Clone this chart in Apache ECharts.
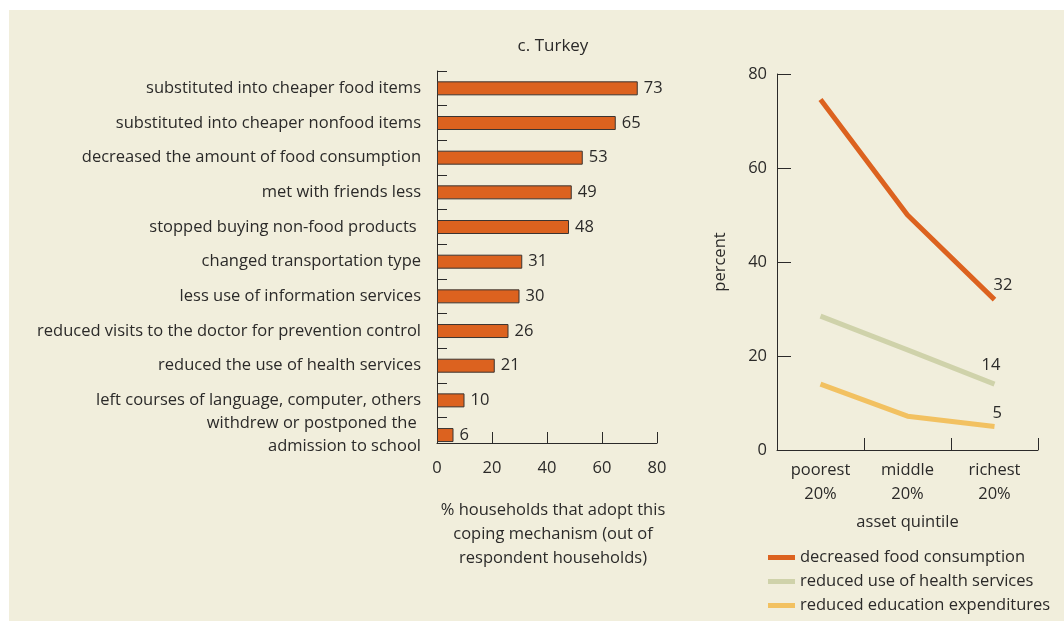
<!DOCTYPE html>
<html>
<head>
<meta charset="utf-8">
<script src="https://cdn.jsdelivr.net/npm/echarts@6/dist/echarts.min.js"></script>
<style>
  html, body { margin: 0; padding: 0; background: #ffffff; }
  #chart { width: 1064px; height: 621px; }
</style>
</head>
<body>
<div id="chart"></div>
<script>
// Coping mechanisms adopted by households (Turkey)
const copingCategories = [
  'substituted into cheaper food items',
  'substituted into cheaper nonfood items',
  'decreased the amount of food consumption',
  'met with friends less',
  'stopped buying non-food products ',
  'changed transportation type',
  'less use of information services',
  'reduced visits to the doctor for prevention control',
  'reduced the use of health services',
  'left courses of language, computer, others',
  'withdrew or postponed the \nadmission to school'
];
const copingShares = [73, 65, 53, 49, 48, 31, 30, 26, 21, 10, 6];
const shareTicks = [0, 20, 40, 60, 80];

// Share by asset quintile
const quintiles = ['poorest\n20%', 'middle\n20%', 'richest\n20%'];
const foodConsumption = [74.6, 50, 32];
const healthServices = [28.5, 21.3, 14];
const educationSpending = [14, 7.2, 5];
const percentTicks = [0, 20, 40, 60, 80];

const TEXT = '#2b2a29';
const AXIS = '#2b2a29';
const FONT = 'Open Sans';
const FS = 16.5;
const ORANGE = '#dc621f';
const SAGE = '#cfd2aa';
const GOLD = '#f2c161';

// Bar layout: one category slot height, top of the slots and the x axis line
const SLOT = 34.67;
const BAR_TOP = 71;
const BAR_AXIS_Y = 443;

const chart = echarts.init(document.getElementById('chart'));

function endLabel(offset) {
  return {
    show: true, offset: offset, distance: 0,
    formatter: p => String(Math.round(p.value)),
    color: TEXT, fontFamily: FONT, fontSize: FS
  };
}

chart.setOption({
  animation: false,
  textStyle: { fontFamily: FONT, color: TEXT },
  graphic: [{
    type: 'rect', silent: true, z: -10,
    shape: { x: 9, y: 10, width: 1060, height: 620 },
    style: { fill: '#f1eedc' }
  }],
  title: {
    text: 'c. Turkey',
    left: 548, top: 33, textAlign: 'center',
    textStyle: { fontFamily: FONT, fontSize: 17, fontWeight: 'normal', color: TEXT }
  },
  legend: {
    orient: 'vertical',
    left: 768, top: 549, padding: 0,
    itemWidth: 27, itemHeight: 5, itemGap: 7,
    icon: 'rect',
    textStyle: { fontFamily: FONT, fontSize: FS, color: TEXT },
    data: ['decreased food consumption', 'reduced use of health services', 'reduced education expenditures']
  },
  grid: [
    // bar slots (the last slot runs past the x axis line)
    { left: 437, top: BAR_TOP, width: 220, height: SLOT * copingCategories.length },
    // line chart
    { left: 777, top: 74, width: 261, height: 376 },
    // frame of the bar chart: x axis and left axis with slot ticks
    { left: 437, top: BAR_TOP, width: 220, height: BAR_AXIS_Y - BAR_TOP }
  ],
  xAxis: [{
    gridIndex: 0, type: 'value',
    min: shareTicks[0], max: shareTicks[shareTicks.length - 1],
    show: false
  }, {
    gridIndex: 1, type: 'category', data: quintiles, boundaryGap: true,
    axisLine: { show: true, lineStyle: { color: AXIS, width: 1 } },
    axisTick: { show: true, inside: true, length: 12, lineStyle: { color: AXIS } },
    axisLabel: { color: TEXT, fontFamily: FONT, fontSize: FS, lineHeight: 24, margin: 8 },
    name: 'asset quintile', nameLocation: 'middle', nameGap: 64,
    nameTextStyle: { color: TEXT, fontFamily: FONT, fontSize: FS }
  }, {
    gridIndex: 2, type: 'value', position: 'bottom',
    min: shareTicks[0], max: shareTicks[shareTicks.length - 1], interval: 20,
    splitLine: { show: false },
    axisLine: { show: true, onZero: false, lineStyle: { color: AXIS, width: 1 } },
    axisTick: { show: true, inside: true, length: 11, lineStyle: { color: AXIS } },
    axisLabel: { color: TEXT, fontFamily: FONT, fontSize: FS, margin: 17 },
    name: '% households that adopt this\ncoping mechanism (out of\nrespondent households)',
    nameLocation: 'middle', nameGap: 55,
    nameTextStyle: { color: TEXT, fontFamily: FONT, fontSize: FS, lineHeight: 24, padding: [0, 0, 0, 12] }
  }],
  yAxis: [{
    gridIndex: 0, type: 'category', data: copingCategories, inverse: true,
    axisLine: { show: false },
    axisTick: { show: false },
    axisLabel: { color: TEXT, fontFamily: FONT, fontSize: FS, lineHeight: 23, margin: 16, interval: 0 }
  }, {
    gridIndex: 1, type: 'value',
    min: percentTicks[0], max: percentTicks[percentTicks.length - 1], interval: 20,
    splitLine: { show: false },
    axisLine: { show: true, lineStyle: { color: AXIS, width: 1 } },
    axisTick: { show: true, inside: true, length: 14, lineStyle: { color: AXIS } },
    axisLabel: { color: TEXT, fontFamily: FONT, fontSize: FS, margin: 10 },
    name: 'percent', nameLocation: 'middle', nameGap: 48, nameRotate: 90,
    nameTextStyle: { color: TEXT, fontFamily: FONT, fontSize: FS }
  }, {
    // slot boundaries, counted in slots from the top
    gridIndex: 2, type: 'value', inverse: true, position: 'left',
    min: 0, max: (BAR_AXIS_Y - BAR_TOP) / SLOT, interval: 1,
    splitLine: { show: false },
    axisLine: { show: true, onZero: false, lineStyle: { color: AXIS, width: 1 } },
    axisTick: { show: true, inside: true, length: 10, lineStyle: { color: AXIS } },
    axisLabel: { show: false }
  }],
  series: [{
    type: 'bar', xAxisIndex: 0, yAxisIndex: 0,
    data: copingShares,
    barWidth: 14,
    itemStyle: { color: ORANGE, borderColor: '#3b3431', borderWidth: 1 },
    label: { show: true, position: 'right', distance: 6, color: TEXT, fontFamily: FONT, fontSize: FS }
  }, {
    name: 'decreased food consumption',
    type: 'line', xAxisIndex: 1, yAxisIndex: 1,
    data: foodConsumption,
    symbol: 'none',
    lineStyle: { color: ORANGE, width: 5, cap: 'butt' },
    itemStyle: { color: ORANGE }, z: 5,
    endLabel: endLabel([-1, -14])
  }, {
    name: 'reduced use of health services',
    type: 'line', xAxisIndex: 1, yAxisIndex: 1,
    data: healthServices,
    symbol: 'none',
    lineStyle: { color: SAGE, width: 5, cap: 'butt' },
    itemStyle: { color: SAGE }, z: 4,
    endLabel: endLabel([-13, -19])
  }, {
    name: 'reduced education expenditures',
    type: 'line', xAxisIndex: 1, yAxisIndex: 1,
    data: educationSpending,
    symbol: 'none',
    lineStyle: { color: GOLD, width: 5, cap: 'butt' },
    itemStyle: { color: GOLD }, z: 3,
    endLabel: endLabel([-2, -13])
  }]
});
</script>
</body>
</html>
